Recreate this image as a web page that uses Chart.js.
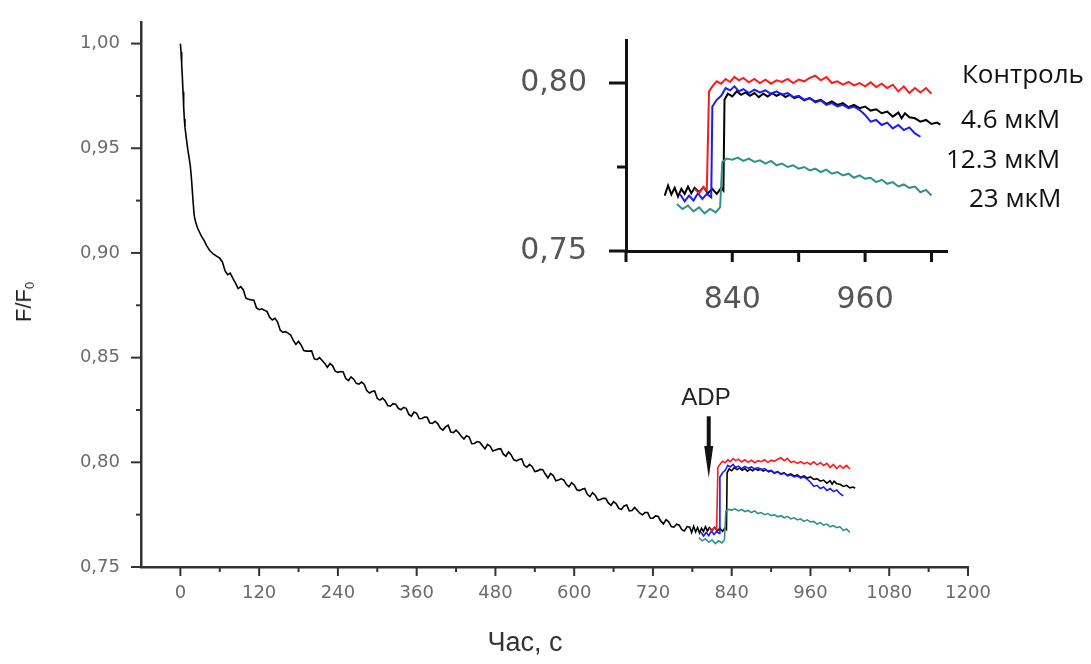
<!DOCTYPE html>
<html>
<head>
<meta charset="utf-8">
<script src="https://cdn.jsdelivr.net/npm/chart.js@4.4.1/dist/chart.umd.min.js"></script>
<style>
html,body{margin:0;padding:0;background:#fff;}
#wrap{position:relative;width:1091px;height:664px;overflow:hidden;background:#fff;}
#main{position:absolute;left:0;top:0;}
#inset{position:absolute;left:490px;top:0;}
.lbl{position:absolute;white-space:nowrap;line-height:1;}
#ytitle{left:24px;top:302px;transform:translate(-50%,-50%) rotate(-90deg);font:22px "Liberation Sans",Arial,sans-serif;color:#222;}
#ytitle sub{font-size:13px;vertical-align:-3px;}
#xtitle{left:525px;top:642px;transform:translate(-50%,-50%);font:27px "Liberation Sans",Arial,sans-serif;color:#333;}
#adp{left:706px;top:397px;transform:translate(-50%,-50%);font:24px "Liberation Sans",Arial,sans-serif;color:#222;}
.ins{font:26px "Open Sans",sans-serif;color:#111;transform:translateY(-50%);}
</style>
</head>
<body>
<div id="wrap">
<canvas id="main" width="1091" height="664"></canvas>
<canvas id="inset" width="470" height="320"></canvas>
<div class="lbl" id="ytitle">F/F<sub>0</sub></div>
<div class="lbl" id="xtitle">Час, с</div>
<div class="lbl" id="adp">ADP</div>
<div class="lbl ins" style="left:962px;top:73px;">Контроль</div>
<div class="lbl ins" style="left:961px;top:118px;">4.6 мкМ</div>
<div class="lbl ins" style="left:946px;top:158px;">12.3 мкМ</div>
<div class="lbl ins" style="left:969px;top:197px;">23 мкМ</div>
</div>
<script>
// ---------- DATA ----------
const seriesLabels = ['Контроль', '4.6 мкМ', '12.3 мкМ', '23 мкМ'];

// main trace (black, 4.6 мкМ)
const blackT = [
  0,1,2,3,4,5,6,7,9,11,
  13,15,17,19,21,23,26,29,32,36,
  40,45,50,55,60,
  64,68,72,76,80,84,88,92,96,100,
  104,108,112,116,120,124,128,132,136,140,
  144,148,152,156,160,164,168,172,176,180,
  184,188,192,196,200,204,208,212,216,220,
  224,228,232,236,240,244,248,252,256,260,
  264,268,272,276,280,284,288,292,296,300,
  304,308,312,316,320,324,328,332,336,340,
  344,348,352,356,360,364,368,372,376,380,
  384,388,392,396,400,404,408,412,416,420,
  424,428,432,436,440,444,448,452,456,460,
  464,468,472,476,480,484,488,492,496,500,
  504,508,512,516,520,524,528,532,536,540,
  544,548,552,556,560,564,568,572,576,580,
  584,588,592,596,600,604,608,612,616,620,
  624,628,632,636,640,644,648,652,656,660,
  664,668,672,676,680,684,688,692,696,700,
  704,708,712,716,720,724,728,732,736,740,
  744,748,752,756,760,764,768,772,
  776,779,782,785,788,791,794,797,800,803,
  806,810,814,818,822,826,830,832,
  833,836,840,844,848,852,856,860,864,868,
  872,876,880,884,888,892,896,900,905,910,
  915,920,925,930,935,940,945,950,955,960,
  965,970,975,980,985,990,993,996,1000,1005,
  1010,1015,1020,1025,1028
];
const blackV = [
  1.000,0.996,0.990,0.984,0.977,0.970,0.964,0.960,0.955,0.950,
  0.946,0.942,0.935,0.926,0.918,0.915,0.912,0.910,0.908,0.906,
  0.9035,0.901,0.8995,0.8985,0.8975,
  0.8957,0.8915,0.8896,0.8904,0.8879,0.8856,0.8830,0.8839,0.8823,0.8783,
  0.8779,0.8776,0.8774,0.8737,0.8729,0.8733,0.8726,0.8721,0.8693,0.8680,
  0.8688,0.8671,0.8632,0.8621,0.8624,0.8617,0.8608,0.8582,0.8563,0.8578,
  0.8560,0.8534,0.8531,0.8531,0.8532,0.8494,0.8490,0.8500,0.8486,0.8472,
  0.8454,0.8472,0.8461,0.8435,0.8430,0.8434,0.8432,0.8400,0.8390,0.8408,
  0.8397,0.8377,0.8373,0.8383,0.8373,0.8343,0.8331,0.8338,0.8341,0.8305,
  0.8297,0.8307,0.8294,0.8271,0.8268,0.8280,0.8278,0.8258,0.8251,0.8262,
  0.8258,0.8229,0.8220,0.8240,0.8234,0.8208,0.8209,0.8216,0.8215,0.8188,
  0.8186,0.8196,0.8185,0.8163,0.8154,0.8169,0.8177,0.8145,0.8142,0.8154,
  0.8141,0.8124,0.8111,0.8127,0.8121,0.8089,0.8090,0.8099,0.8096,0.8080,
  0.8064,0.8086,0.8077,0.8054,0.8059,0.8063,0.8065,0.8039,0.8029,0.8050,
  0.8035,0.8012,0.8007,0.8013,0.8016,0.7985,0.7977,0.7990,0.7979,0.7956,
  0.7959,0.7966,0.7965,0.7944,0.7925,0.7947,0.7937,0.7912,0.7916,0.7921,
  0.7916,0.7895,0.7883,0.7903,0.7892,0.7869,0.7865,0.7871,0.7875,0.7847,
  0.7836,0.7855,0.7843,0.7820,0.7822,0.7828,0.7828,0.7806,0.7795,0.7812,
  0.7802,0.7780,0.7775,0.7792,0.7796,0.7768,0.7770,0.7784,0.7771,0.7757,
  0.7749,0.7760,0.7760,0.7733,0.7733,0.7744,0.7741,0.7719,0.7706,0.7726,
  0.7716,0.7693,0.7690,0.7704,0.7700,0.7678,0.7672,0.7693,
  0.7690,0.7665,0.7695,0.7668,0.7688,0.7662,0.7685,0.7670,0.7692,0.7672,
  0.7688,0.7675,0.7690,0.7672,0.7685,0.7670,0.7688,0.7680,
  0.7950,0.7968,0.7960,0.7975,0.7965,0.7972,0.7962,0.7970,0.7958,0.7968,
  0.7960,0.7970,0.7962,0.7968,0.7958,0.7965,0.7955,0.7960,0.7948,0.7955,
  0.7945,0.7950,0.7938,0.7945,0.7935,0.7940,0.7928,0.7935,0.7925,0.7930,
  0.7918,0.7922,0.7910,0.7915,0.7900,0.7912,0.7895,0.7910,0.7898,0.7895,
  0.7885,0.7890,0.7878,0.7882,0.7876
];

// control (red)
const ctrlT = [806,810,814,817,819,822,826,830,834,838,842,846,850,855,860,865,870,875,880,885,890,895,900,905,910,915,920,925,930,935,940,945,950,955,960,965,970,975,980,985,990,995,1000,1005,1010,1015,1020];
const ctrlV = [0.7685,0.7672,0.7690,0.7680,0.7975,0.7990,0.8005,0.7998,0.8012,0.8003,0.8018,0.8008,0.8015,0.8002,0.8012,0.8000,0.8010,0.7998,0.8008,0.8003,0.8012,0.8000,0.8010,0.8005,0.8015,0.8022,0.8008,0.8018,0.8000,0.8005,0.7995,0.8003,0.7993,0.8000,0.7990,0.8002,0.7988,0.7998,0.7985,0.7995,0.7975,0.7990,0.7970,0.7985,0.7972,0.7985,0.7968];

// 12.3 мкМ (blue)
const blueT = [793,797,801,805,809,813,817,821,822,826,830,834,838,842,846,850,855,860,865,870,875,880,885,890,895,900,905,910,915,920,925,930,935,940,945,950,955,960,965,970,975,980,985,990,995,1000,1005,1010];
const blueV = [0.7668,0.7648,0.7665,0.7650,0.7672,0.7655,0.7670,0.7660,0.7930,0.7950,0.7962,0.7985,0.7978,0.7990,0.7975,0.7982,0.7970,0.7980,0.7972,0.7978,0.7968,0.7975,0.7965,0.7970,0.7958,0.7962,0.7950,0.7955,0.7942,0.7948,0.7935,0.7940,0.7930,0.7935,0.7925,0.7930,0.7920,0.7905,0.7885,0.7890,0.7875,0.7882,0.7865,0.7875,0.7860,0.7868,0.7850,0.7840];

// 23 мкМ (teal)
const tealT = [790,795,800,805,810,815,820,825,829,831,835,840,845,850,855,860,865,870,875,880,885,890,895,900,905,910,915,920,925,930,935,940,945,950,955,960,965,970,975,980,985,990,995,1000,1005,1010,1015,1020];
const tealV = [0.7640,0.7625,0.7635,0.7618,0.7630,0.7612,0.7625,0.7615,0.7630,0.7765,0.7775,0.7772,0.7778,0.7768,0.7775,0.7765,0.7770,0.7760,0.7768,0.7755,0.7760,0.7750,0.7755,0.7745,0.7750,0.7740,0.7745,0.7735,0.7742,0.7730,0.7735,0.7725,0.7730,0.7718,0.7725,0.7715,0.7718,0.7705,0.7712,0.7700,0.7705,0.7692,0.7698,0.7688,0.7692,0.7675,0.7682,0.7665];

// ticks
const mainXTicks = [0,120,240,360,480,600,720,840,960,1080,1200];
const mainXMinor = [60,180,300,420,540,660,780,900,1020,1140];
const mainYTicks = [0.75,0.80,0.85,0.90,0.95,1.00];
const mainYMinor = [0.775,0.825,0.875,0.925,0.975];
const insetXTicks = [840,960];
const insetXMarks = [744,840,900,960,1020];
const insetYTicks = [0.75,0.80];
const insetYMinor = [0.775];
const insetStart = 777;

// ---------- BUILD ----------
function pts(T, V, from){
  const n = Math.min(T.length, V.length), out = [];
  for (let i = 0; i < n; i++) if (from === undefined || T[i] >= from) out.push({x:T[i], y:V[i]});
  return out;
}
const colors = {red:'#ff1a1a', blue:'#1a1aff', teal:'#2f9090', black:'#000000'};

function datasets(width, blackWidth, from){
  return [
    {label:seriesLabels[0], data:pts(ctrlT, ctrlV), borderColor:colors.red, borderWidth:width},
    {label:seriesLabels[2], data:pts(blueT, blueV), borderColor:colors.blue, borderWidth:width},
    {label:seriesLabels[3], data:pts(tealT, tealV), borderColor:colors.teal, borderWidth:width},
    {label:seriesLabels[1], data:pts(blackT, blackV, from), borderColor:colors.black, borderWidth:blackWidth}
  ];
}

const tickMarks = {
  id:'tickMarks',
  afterDraw(chart, args, o){
    const ctx = chart.ctx, a = chart.chartArea, xs = chart.scales.x, ys = chart.scales.y;
    ctx.save();
    ctx.strokeStyle = o.color; ctx.lineWidth = o.width; ctx.lineCap = 'butt';
    const xl = [[o.xMajor, o.xMajorLen], [o.xMinor || [], o.xMinorLen]];
    for (const [vals, len] of xl) for (const v of vals) {
      const p = xs.getPixelForValue(v);
      ctx.beginPath(); ctx.moveTo(p, a.bottom); ctx.lineTo(p, a.bottom + len); ctx.stroke();
    }
    const yl = [[o.yMajor, o.yMajorLen], [o.yMinor || [], o.yMinorLen]];
    for (const [vals, len] of yl) for (const v of vals) {
      const p = ys.getPixelForValue(v);
      ctx.beginPath(); ctx.moveTo(a.left, p); ctx.lineTo(a.left - len, p); ctx.stroke();
    }
    ctx.restore();
  }
};

const adpArrow = {
  id:'adpArrow',
  afterDraw(chart, args, o){
    if (!o || !o.show) return;
    const ctx = chart.ctx, xs = chart.scales.x, ys = chart.scales.y;
    const x = xs.getPixelForValue(o.t), y1 = ys.getPixelForValue(o.top), y2 = ys.getPixelForValue(o.bottom);
    ctx.save();
    ctx.strokeStyle = '#111'; ctx.fillStyle = '#111'; ctx.lineWidth = 4;
    ctx.beginPath(); ctx.moveTo(x, y1); ctx.lineTo(x, y2 - 18); ctx.stroke();
    ctx.beginPath(); ctx.moveTo(x - 4.5, y2 - 32); ctx.lineTo(x + 4.5, y2 - 32); ctx.lineTo(x, y2); ctx.closePath(); ctx.fill();
    ctx.restore();
  }
};

new Chart(document.getElementById('main'), {
  type:'line',
  data:{datasets:datasets(1.6, 1.6)},
  options:{
    responsive:false, animation:false,
    elements:{point:{radius:0}, line:{tension:0}},
    layout:{padding:{left:0, top:18, right:123, bottom:0}},
    plugins:{
      legend:{display:false}, tooltip:{enabled:false},
      tickMarks:{color:'#333', width:2, xMajor:mainXTicks, xMajorLen:9, xMinor:mainXMinor, xMinorLen:5,
                 yMajor:mainYTicks, yMajorLen:10, yMinor:mainYMinor, yMinorLen:5},
      adpArrow:{show:true, t:805, top:0.822, bottom:0.7925}
    },
    scales:{
      x:{type:'linear', min:-60, max:1200,
         afterBuildTicks:s=>{ s.ticks = mainXTicks.map(v=>({value:v})); },
         afterFit:s=>{ s.height = 97; },
         grid:{display:false, drawTicks:true, tickLength:10},
         border:{display:true, color:'#333', width:2.5},
         ticks:{autoSkip:false, maxRotation:0, padding:6, color:'#6b6b6b',
                font:{family:'DejaVu Sans', size:18}, callback:v=>String(v)}},
      y:{type:'linear', min:0.75, max:1.0104,
         afterBuildTicks:s=>{ s.ticks = mainYTicks.map(v=>({value:v})); },
         afterFit:s=>{ s.width = 141; },
         grid:{display:false, drawTicks:true, tickLength:10},
         border:{display:true, color:'#333', width:2.5},
         ticks:{autoSkip:false, padding:11, color:'#6b6b6b',
                font:{family:'DejaVu Sans', size:18}, callback:v=>v.toFixed(2).replace('.', ',')}}
    }
  },
  plugins:[tickMarks, adpArrow]
});

new Chart(document.getElementById('inset'), {
  type:'line',
  data:{datasets:datasets(2, 2, insetStart)},
  options:{
    responsive:false, animation:false,
    elements:{point:{radius:0}, line:{tension:0}},
    layout:{padding:{left:0, top:25, right:13, bottom:0}},
    plugins:{
      legend:{display:false}, tooltip:{enabled:false},
      tickMarks:{color:'#111', width:3, xMajor:insetXMarks, xMajorLen:11,
                 yMajor:insetYTicks, yMajorLen:17, yMinor:insetYMinor, yMinorLen:9}
    },
    scales:{
      x:{type:'linear', min:744, max:1034,
         afterBuildTicks:s=>{ s.ticks = insetXTicks.map(v=>({value:v})); },
         afterFit:s=>{ s.height = 69; },
         grid:{display:false, drawTicks:true, tickLength:11},
         border:{display:true, color:'#111', width:3},
         ticks:{autoSkip:false, maxRotation:0, padding:20, color:'#555',
                font:{family:'DejaVu Sans', size:30}, callback:v=>String(v)}},
      y:{type:'linear', min:0.75, max:0.8128,
         afterBuildTicks:s=>{ s.ticks = insetYTicks.map(v=>({value:v})); },
         afterFit:s=>{ s.width = 136; },
         grid:{display:false, drawTicks:true, tickLength:17},
         border:{display:true, color:'#111', width:3},
         ticks:{autoSkip:false, padding:22, color:'#555',
                font:{family:'DejaVu Sans', size:30}, callback:v=>v.toFixed(2).replace('.', ',')}}
    }
  },
  plugins:[tickMarks]
});
</script>
</body>
</html>
